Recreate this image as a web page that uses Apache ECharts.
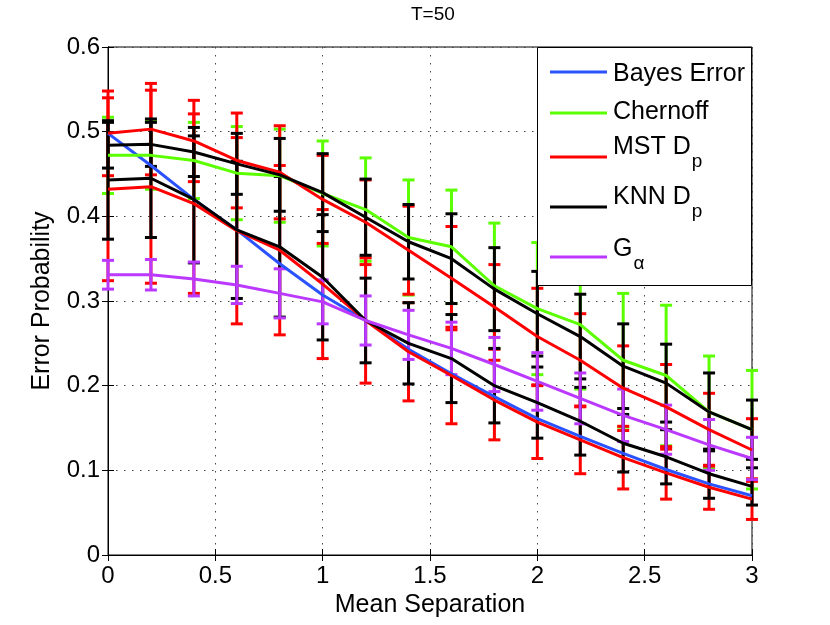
<!DOCTYPE html>
<html>
<head>
<meta charset="utf-8">
<script src="https://cdn.jsdelivr.net/npm/echarts@6/dist/echarts.min.js"></script>
<style>html,body{margin:0;padding:0;background:#fff}#c{width:830px;height:625px}</style>
</head>
<body>
<div id="c"></div>
<script>
// ---- data ----
const xs = [0, 0.2, 0.4, 0.6, 0.8, 1.0, 1.2, 1.4, 1.6, 1.8, 2.0, 2.2, 2.4, 2.6, 2.8, 3.0];
const xTicks = [0, 0.5, 1, 1.5, 2, 2.5, 3];
const yTicks = [0, 0.1, 0.2, 0.3, 0.4, 0.5, 0.6];

const bayes      = [0.498, 0.460, 0.420, 0.384, 0.344, 0.307, 0.277, 0.243, 0.214, 0.187, 0.161, 0.140, 0.120, 0.101, 0.084, 0.070];

const chernoff    = [0.472, 0.472, 0.466, 0.451, 0.448, 0.427, 0.408, 0.375, 0.364, 0.318, 0.291, 0.272, 0.230, 0.212, 0.169, 0.148];
const chernoffErr = [0.045, 0.040, 0.045, 0.055, 0.055, 0.062, 0.061, 0.068, 0.067, 0.074, 0.078, 0.076, 0.079, 0.083, 0.066, 0.070];

const mstUpper    = [0.498, 0.503, 0.489, 0.466, 0.452, 0.420, 0.393, 0.360, 0.327, 0.293, 0.258, 0.230, 0.197, 0.175, 0.148, 0.124];
const mstUpperErr = [0.050, 0.054, 0.048, 0.056, 0.055, 0.052, 0.050, 0.052, 0.061, 0.050, 0.057, 0.055, 0.050, 0.050, 0.043, 0.037];
const mstLower    = [0.432, 0.435, 0.415, 0.383, 0.360, 0.320, 0.277, 0.240, 0.212, 0.183, 0.157, 0.136, 0.115, 0.097, 0.080, 0.066];
const mstLowerErr = [0.108, 0.114, 0.106, 0.110, 0.100, 0.088, 0.074, 0.058, 0.057, 0.047, 0.043, 0.040, 0.037, 0.031, 0.026, 0.024];

const knnUpper    = [0.484, 0.485, 0.476, 0.462, 0.449, 0.428, 0.399, 0.370, 0.350, 0.314, 0.285, 0.258, 0.223, 0.203, 0.169, 0.148];
const knnUpperErr = [0.027, 0.026, 0.029, 0.036, 0.043, 0.046, 0.045, 0.044, 0.053, 0.049, 0.050, 0.050, 0.050, 0.046, 0.046, 0.035];
const knnLower    = [0.443, 0.445, 0.420, 0.384, 0.364, 0.328, 0.277, 0.250, 0.232, 0.200, 0.180, 0.158, 0.132, 0.116, 0.096, 0.081];
const knnLowerErr = [0.070, 0.070, 0.075, 0.081, 0.083, 0.074, 0.050, 0.048, 0.052, 0.044, 0.042, 0.040, 0.034, 0.032, 0.029, 0.022];

const galpha      = [0.331, 0.331, 0.326, 0.319, 0.309, 0.299, 0.277, 0.260, 0.244, 0.225, 0.205, 0.185, 0.165, 0.148, 0.130, 0.114];
const galphaErr   = [0.017, 0.018, 0.020, 0.022, 0.029, 0.026, 0.029, 0.029, 0.031, 0.032, 0.034, 0.030, 0.031, 0.029, 0.030, 0.025];

// legend entries: main text + subscript
const legendMain = ['Bayes Error', 'Chernoff', 'MST D', 'KNN D', 'G'];
const legendSub  = ['', '', 'p', 'p', '\u03b1'];

// ---- styles ----
const C = { blue: '#2a52ff', green: '#5cff00', red: '#ff0000', black: '#000000', purple: '#bb38ff' };
const legendColors = [C.blue, C.green, C.red, C.black, C.purple];
const FONT = '"Liberation Sans", Arial, Helvetica, sans-serif';

function lineSeries(name, vals, color) {
  return {
    type: 'line', name: name, data: xs.map((x, i) => [x, vals[i]]),
    symbol: 'none', lineStyle: { color: color, width: 3 }, itemStyle: { color: color },
    silent: true, animation: false
  };
}
function errSeries(name, vals, errs, color) {
  return {
    type: 'custom', name: name, silent: true, animation: false,
    data: xs.map((x, i) => [x, vals[i] - errs[i], vals[i] + errs[i]]),
    encode: { x: 0, y: [1, 2] },
    renderItem: function (params, api) {
      const x = api.value(0), lo = api.value(1), hi = api.value(2);
      const pl = api.coord([x, lo]), ph = api.coord([x, hi]);
      const w = 6;
      const st = { stroke: color, lineWidth: 3 };
      return {
        type: 'group', children: [
          { type: 'line', shape: { x1: pl[0], y1: pl[1], x2: ph[0], y2: ph[1] }, style: st },
          { type: 'line', shape: { x1: pl[0] - w, y1: pl[1], x2: pl[0] + w, y2: pl[1] }, style: st },
          { type: 'line', shape: { x1: ph[0] - w, y1: ph[1], x2: ph[0] + w, y2: ph[1] }, style: st }
        ]
      };
    }
  };
}

// ---- legend box (drawn as graphic elements) ----
const LG = { x: 537.5, y: 47.5, w: 214, h: 238, lineX1: 550, lineX2: 607, textX: 613,
             rowY: [72, 113, 157, 207, 257], mainMid: [74, 112.5, 147.5, 197.5, 249], subMid: [0, 0, 161.5, 211.5, 263.5] };
const mctx = document.createElement('canvas').getContext('2d');
function textW(s, size) { mctx.font = size + 'px ' + FONT; return mctx.measureText(s).width; }
const legendGraphics = [{
  type: 'rect', z: 100, shape: { x: LG.x, y: LG.y, width: LG.w, height: LG.h },
  style: { fill: '#fff', stroke: '#000', lineWidth: 1 }
}];
legendMain.forEach(function (t, i) {
  legendGraphics.push({ type: 'line', z: 101, shape: { x1: LG.lineX1, y1: LG.rowY[i], x2: LG.lineX2, y2: LG.rowY[i] },
    style: { stroke: legendColors[i], lineWidth: 3 } });
  legendGraphics.push({ type: 'text', z: 101, x: LG.textX, y: LG.mainMid[i],
    style: { text: t, font: '25px ' + FONT, fill: '#000', align: 'left', verticalAlign: 'middle' } });
  if (legendSub[i]) {
    legendGraphics.push({ type: 'text', z: 101, x: LG.textX + textW(t, 25) + 1, y: LG.subMid[i],
      style: { text: legendSub[i], font: '19px ' + FONT, fill: '#000', align: 'left', verticalAlign: 'middle' } });
  }
});

const chart = echarts.init(document.getElementById('c'), null, { renderer: 'canvas' });
const dotted = { color: '#444', width: 1, type: [1.5, 6.5] };

chart.setOption({
  animation: false,
  backgroundColor: '#fff',
  textStyle: { fontFamily: FONT, color: '#000' },
  title: {
    text: 'T=50', left: 406, top: 0,
    textStyle: { fontFamily: FONT, fontSize: 19, fontWeight: 'normal', color: '#000' }
  },
  grid: { left: 108, right: 78, top: 47, bottom: 70, show: true, borderColor: '#000', borderWidth: 1, backgroundColor: 'transparent' },
  graphic: legendGraphics,
  xAxis: [{
    type: 'value', min: xTicks[0], max: xTicks[xTicks.length - 1], interval: 0.5,
    name: 'Mean Separation', nameLocation: 'middle', nameGap: 36,
    nameTextStyle: { fontFamily: FONT, fontSize: 25, color: '#000' },
    axisLine: { show: true, lineStyle: { color: '#000', width: 1 } },
    axisTick: { show: true, inside: true, length: 6, lineStyle: { color: '#000' } },
    axisLabel: { fontFamily: FONT, fontSize: 24, color: '#000', margin: 9 },
    splitLine: { show: true, lineStyle: dotted }
  }, {
    type: 'value', position: 'top', min: xTicks[0], max: xTicks[xTicks.length - 1], interval: 0.5,
    axisLine: { show: true, lineStyle: { color: '#000', width: 1 } },
    axisTick: { show: true, inside: true, length: 6, lineStyle: { color: '#000' } },
    axisLabel: { show: false }, splitLine: { show: false }
  }],
  yAxis: [{
    type: 'value', min: yTicks[0], max: yTicks[yTicks.length - 1], interval: 0.1,
    name: 'Error Probability', nameLocation: 'middle', nameGap: 53,
    nameTextStyle: { fontFamily: FONT, fontSize: 25, color: '#000' },
    axisLine: { show: true, lineStyle: { color: '#000', width: 1 } },
    axisTick: { show: true, inside: true, length: 6, lineStyle: { color: '#000' } },
    axisLabel: { fontFamily: FONT, fontSize: 24, color: '#000', margin: 8 },
    splitLine: { show: true, lineStyle: dotted }
  }, {
    type: 'value', position: 'right', min: yTicks[0], max: yTicks[yTicks.length - 1], interval: 0.1,
    axisLine: { show: true, lineStyle: { color: '#000', width: 1 } },
    axisTick: { show: true, inside: true, length: 6, lineStyle: { color: '#000' } },
    axisLabel: { show: false }, splitLine: { show: false }
  }],
  series: [
    lineSeries('Bayes Error', bayes, C.blue),
    errSeries('Chernoff err', chernoff, chernoffErr, C.green),
    lineSeries('Chernoff', chernoff, C.green),
    errSeries('MST upper err', mstUpper, mstUpperErr, C.red),
    errSeries('MST lower err', mstLower, mstLowerErr, C.red),
    lineSeries('MST Dp upper', mstUpper, C.red),
    lineSeries('MST Dp lower', mstLower, C.red),
    errSeries('KNN upper err', knnUpper, knnUpperErr, C.black),
    errSeries('KNN lower err', knnLower, knnLowerErr, C.black),
    lineSeries('KNN Dp upper', knnUpper, C.black),
    lineSeries('KNN Dp lower', knnLower, C.black),
    errSeries('G alpha err', galpha, galphaErr, C.purple),
    lineSeries('G\u03b1', galpha, C.purple)
  ]
});
</script>
</body>
</html>
